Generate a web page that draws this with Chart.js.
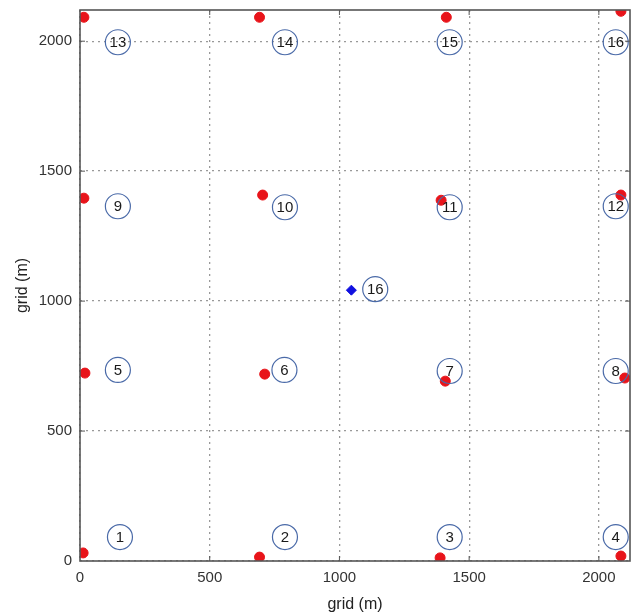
<!DOCTYPE html>
<html>
<head>
<meta charset="utf-8">
<script src="https://cdn.jsdelivr.net/npm/chart.js@4.4.1/dist/chart.umd.min.js"></script>
<style>
  html, body { margin: 0; padding: 0; background: #fff; }
  #wrap { width: 638px; height: 615px; }
</style>
</head>
<body>
<div id="wrap"><canvas id="gridChart"></canvas></div>
<script>
// red dots: measured node positions (m)
const nodeX = [12, 692, 1388, 2085, 19, 712, 1408, 2100, 15, 704, 1392, 2085, 15, 692, 1412, 2085];
const nodeY = [31, 15, 12, 19, 723, 719, 692, 704, 1396, 1408, 1388, 1408, 2092, 2092, 2092, 2115];

// blue diamond: estimated position of node 16
const estX = [1046];
const estY = [1042];

// circled labels
const labelText = ['1', '2', '3', '4', '5', '6', '7', '8', '9', '10', '11', '12', '13', '14', '15', '16', '16'];
const labelX = [154, 790, 1425, 2065, 146, 788, 1425, 2065, 146, 790, 1425, 2065, 146, 790, 1425, 2065, 1138];
const labelY = [92, 92, 92, 92, 735, 735, 731, 731, 1365, 1361, 1361, 1365, 1996, 1996, 1996, 1996, 1046];

const tickValues = [0, 500, 1000, 1500, 2000];

const AXIS_MAX = 2120;
const FONT = 'Liberation Sans, Arial, sans-serif';

const toPoints = function (xs, ys) {
    return xs.map(function (x, i) {
        return { x: x, y: ys[i] };
    });
}

const circleLabels = {
    id: 'circleLabels',
    afterDatasetsDraw: function (chart) {
        const ctx = chart.ctx;
        const xs = chart.scales.x;
        const ys = chart.scales.y;
        ctx.save();
        labelText.forEach(function (txt, i) {
            const px = xs.getPixelForValue(labelX[i]);
            const py = ys.getPixelForValue(labelY[i]);
            ctx.beginPath();
            ctx.arc(px, py, 12.5, 0, Math.PI * 2);
            ctx.lineWidth = 1.2;
            ctx.strokeStyle = '#4a6aa8';
            ctx.stroke();
            ctx.fillStyle = '#1a1a1a';
            ctx.font = '15px ' + FONT;
            ctx.textAlign = 'center';
            ctx.textBaseline = 'middle';
            ctx.fillText(txt, px, py + 1);
        });
        ctx.restore();
    }
}

const frameBox = {
    id: 'frameBox',
    afterDraw: function (chart) {
        const a = chart.chartArea;
        const ctx = chart.ctx;
        const xs = chart.scales.x;
        const ys = chart.scales.y;
        ctx.save();
        ctx.strokeStyle = '#555';
        ctx.lineWidth = 1;
        // inner tick marks
        tickValues.slice(1).forEach(function (v) {
            const px = xs.getPixelForValue(v);
            const py = ys.getPixelForValue(v);
            ctx.beginPath();
            ctx.moveTo(px, a.top); ctx.lineTo(px, a.top + 5);
            ctx.moveTo(px, a.bottom); ctx.lineTo(px, a.bottom - 5);
            ctx.moveTo(a.left, py); ctx.lineTo(a.left + 5, py);
            ctx.moveTo(a.right, py); ctx.lineTo(a.right - 5, py);
            ctx.stroke();
        });
        ctx.lineWidth = 1.6;
        ctx.strokeRect(a.left, a.top, a.right - a.left, a.bottom - a.top);
        ctx.restore();
    }
}

const axisOptions = function (fitFn, titlePad) {
    return {
        type: 'linear',
        min: 0,
        max: AXIS_MAX,
        afterFit: fitFn,
        afterBuildTicks: function (s) {
            s.ticks = tickValues.map(function (v) { return { value: v }; });
        },
        ticks: {
            color: '#333',
            font: { family: FONT, size: 15 },
            padding: 8,
            callback: function (v) { return String(v); }
        },
        grid: {
            color: '#999',
            lineWidth: 1.3,
            drawTicks: false
        },
        border: { display: false, dash: [2, 4] },
        title: {
            display: true,
            text: 'grid (m)',
            color: '#222',
            font: { family: FONT, size: 16 },
            padding: titlePad
        }
    }
}

const chart = new Chart(document.getElementById('gridChart'), {
    type: 'scatter',
    data: {
        datasets: [{
            label: 'nodes',
            data: toPoints(nodeX, nodeY),
            backgroundColor: '#e8141a',
            borderColor: '#e8141a',
            pointRadius: 5,
            pointHoverRadius: 5
        }, {
            label: 'estimate',
            data: toPoints(estX, estY),
            backgroundColor: '#1010e0',
            borderColor: '#1010e0',
            pointStyle: 'rectRot',
            pointRadius: 5,
            pointHoverRadius: 5
        }]
    },
    options: {
        responsive: true,
        maintainAspectRatio: false,
        animation: false,
        layout: { padding: { top: 10, right: 8, left: 0, bottom: 0 } },
        plugins: {
            legend: { display: false },
            tooltip: { enabled: false }
        },
        scales: {
            x: axisOptions(function (s) {
                s.height = 54;
                s.paddingLeft = 0;
                s.paddingRight = 0;
            }, { top: 0, bottom: 1 }),
            y: axisOptions(function (s) {
                s.width = 80;
                s.paddingTop = 0;
                s.paddingBottom = 0;
            }, { top: 13, bottom: 0 })
        }
    },
    plugins: [circleLabels, frameBox]
});
</script>
</body>
</html>
